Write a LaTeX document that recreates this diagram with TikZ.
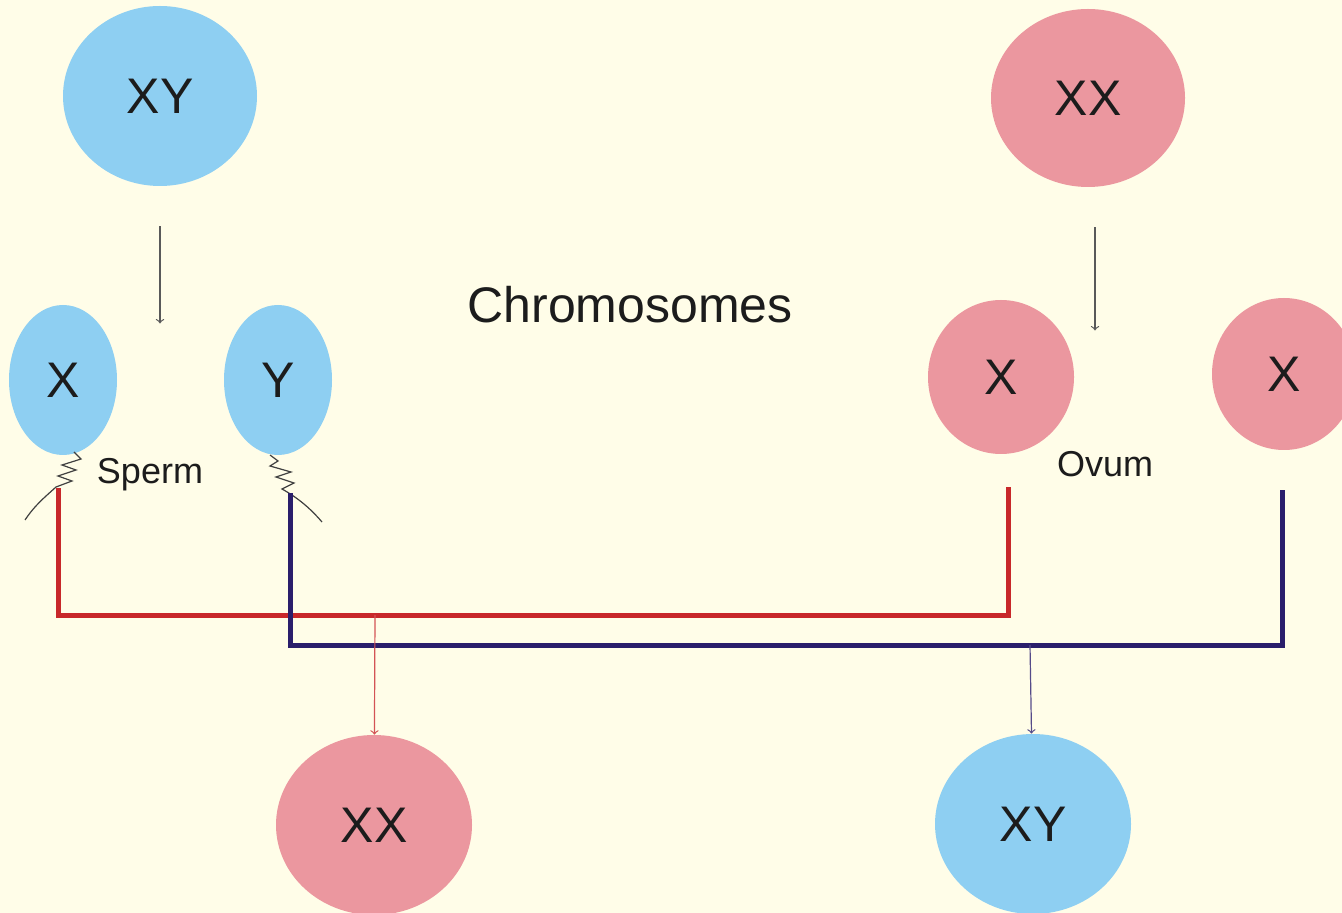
\documentclass[tikz,border=0pt]{standalone}
\usepackage{fontspec}
\setmainfont{Liberation Sans}
\usetikzlibrary{shapes.geometric}

\definecolor{paper}{HTML}{FFFDE8}
\definecolor{spermblue}{HTML}{8ECFF2}
\definecolor{ovumpink}{HTML}{EB979F}
\definecolor{redpath}{HTML}{C8282A}
\definecolor{bluepath}{HTML}{2A1E6B}
\definecolor{ink}{HTML}{1C1C1C}

\begin{document}
\begin{tikzpicture}[x=0.5pt,y=-0.5pt,>=to,
    cell/.style={ellipse,draw=none,inner sep=0pt,text=ink,font=\fontsize{25}{30}\selectfont},
    male/.style={cell,fill=spermblue},
    female/.style={cell,fill=ovumpink},
    caption/.style={text=ink,inner sep=0pt},
    split/.style={->,draw=black!65,line width=0.6pt},
    tail/.style={draw=black!75,line width=0.6pt},
    redline/.style={draw=redpath,line width=2.5pt},
    blueline/.style={draw=bluepath,line width=2.5pt}]
    \path[use as bounding box,fill=paper] (0,0) rectangle (1342,913);
    \clip (0,0) rectangle (1342,913);

    % parents
    \node[male,minimum width=97pt,minimum height=90pt] (pxy) at (160,96) {XY};
    \node[female,minimum width=97pt,minimum height=89pt] (pxx) at (1088,98) {XX};
    % gametes
    \node[male,minimum width=54pt,minimum height=75pt] (sx) at (63,380) {X};
    \node[male,minimum width=54pt,minimum height=75pt] (sy) at (278,380) {Y};
    \node[female,minimum width=73pt,minimum height=77pt] (ox1) at (1001,377) {X};
    \node[female,minimum width=72pt,minimum height=76pt] (ox2) at (1284,374) {X};
    % children
    \node[female,minimum width=98pt,minimum height=90pt] (cxx) at (374,825) {XX};
    \node[male,minimum width=98pt,minimum height=90pt] (cxy) at (1033,824) {XY};

    \node[caption,font=\fontsize{25}{30}\selectfont] (title) at (630,305) {Chromosomes};
    \node[caption,font=\fontsize{18}{22}\selectfont] (sperm) at (150,475) {Sperm};
    \node[caption,font=\fontsize{18}{22}\selectfont] (ovum) at (1105,464) {Ovum};

    \draw[split] ([yshift=-20pt]pxy.south) -- ++(0,97);
    \draw[split] ([shift={(3.5pt,-20pt)}]pxx.south) -- ++(0,103);

    % sperm tails
    \draw[tail] (74,452) -- (81,459) -- (62,465) -- (76,470) -- (58,476) -- (72,481) -- (56,487)
        .. controls (45,497) and (35,505) .. (25,520);
    \draw[tail] (270,455) -- (278,461) -- (270,466) -- (291,472) -- (276,477) -- (294,483) -- (282,489)
        .. controls (298,498) and (310,508) .. (322,522);

    % fertilisation
    \coordinate (redjoin) at (375,615);
    \coordinate (bluejoin) at (1030,645);
    \draw[redline] ([shift={(-2.5pt,-16.5pt)}]sx.south) |- (redjoin) -| ([shift={(3.5pt,-16.5pt)}]ox1.south);
    \draw[blueline] ([shift={(6pt,-19pt)}]sy.south) |- (bluejoin) -| ([shift={(-1pt,-20pt)}]ox2.south);
    \draw[->,draw=redpath!80,line width=0.6pt] (redjoin) -- (cxx);
    \draw[->,draw=bluepath!80,line width=0.6pt] (bluejoin) -- (cxy);
\end{tikzpicture}
\end{document}
